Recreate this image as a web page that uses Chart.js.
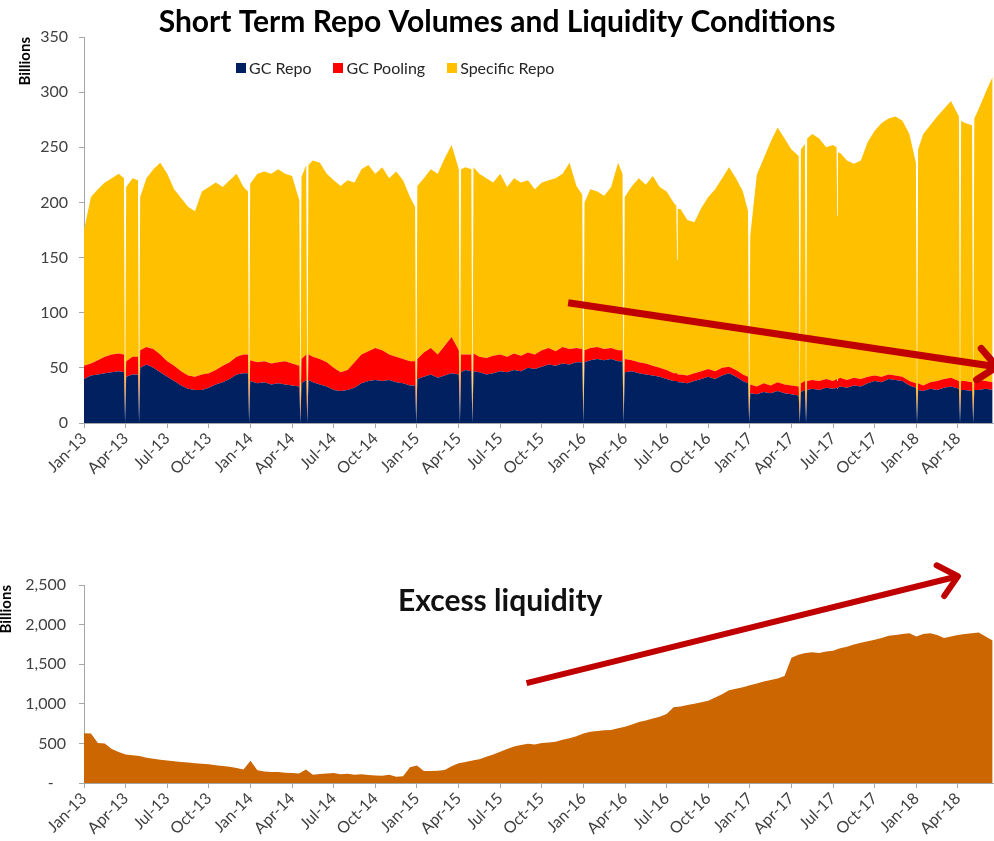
<!DOCTYPE html>
<html>
<head>
<meta charset="utf-8">
<script src="https://cdn.jsdelivr.net/npm/chart.js@4.4.1/dist/chart.umd.min.js"></script>
<style>
  body { margin: 0; background: #fff; width: 994px; height: 841px; overflow: hidden; position: relative; font-family: Lato, "Open Sans", sans-serif; }
  #repoChart { position: absolute; left: 0; top: 0; }
  #liquidityChart { position: absolute; left: 0; top: 560px; }
  #repoLegend { position: absolute; left: 236px; top: 58px; display: flex; gap: 22px; font-size: 16px; color: #262626; }
  #repoLegend span { display: flex; align-items: center; }
  #repoLegend i { display: inline-block; width: 10px; height: 10px; margin-right: 3px; }
  #liqTitle { position: absolute; left: 398px; top: 582px; font-size: 30px; font-weight: bold; color: #111; line-height: 34px; }
</style>
</head>
<body>
<canvas id="repoChart" width="994" height="490"></canvas>
<canvas id="liquidityChart" width="994" height="281"></canvas>
<div id="repoLegend">
  <span><i style="background:#002060"></i>GC Repo</span>
  <span><i style="background:#FF0000"></i>GC Pooling</span>
  <span><i style="background:#FFC000"></i>Specific Repo</span>
</div>
<div id="liqTitle">Excess liquidity</div>
<script>
// x positions are months since Jan-2013
const tickLabels = ['Jan-13','Apr-13','Jul-13','Oct-13','Jan-14','Apr-14','Jul-14','Oct-14','Jan-15','Apr-15','Jul-15',
  'Oct-15','Jan-16','Apr-16','Jul-16','Oct-16','Jan-17','Apr-17','Jul-17','Oct-17','Jan-18','Apr-18'];

const repoMonths = [0,0.5,1,1.5,2,2.5,2.88,2.96,3.04,3.5,3.89,3.97,4.05,4.5,5,5.5,6,6.5,7,7.5,8,8.5,9,9.5,10,10.5,11,11.5,11.82,11.9,11.98,
  12.5,13,13.5,14,14.5,15,15.52,15.6,15.68,16.02,16.1,16.18,16.5,17,17.5,18,18.5,19,19.5,20,20.5,21,21.5,22,22.5,23,23.5,23.87,23.95,24.03,
  24.5,25,25.5,26,26.5,27.02,27.1,27.18,27.5,27.92,28,28.08,28.5,29,29.5,30,30.5,31,31.5,32,32.5,33,33.5,34,34.5,35,35.5,35.92,36,36.08,
  36.5,37,37.5,38,38.5,38.82,38.9,38.98,39.5,40,40.5,41,41.5,42,42.5,42.7,42.75,42.8,43,43.5,44,44.5,45,45.5,46,46.5,47,47.5,47.87,47.95,48.03,
  48.5,49,49.5,50,50.5,51,51.52,51.6,51.68,51.97,52.05,52.13,52.5,53,53.5,54,54.25,54.3,54.35,54.5,55,55.5,56,56.5,57,57.5,58,58.5,59,59.5,59.97,60.05,60.13,
  60.5,61,61.5,62,62.5,63.07,63.15,63.23,63.5,64.02,64.1,64.18,64.5,65,65.5];

const gcRepo = [40,43,44,45,46,47,46,0,42,44,44,0,50,53,50,46,42,38,34,31,30,30,32,35,37,40,44,45,45,0,38,
  36,37,35,36,35,34,33,0,36,39,0,39,37,35,33,30,29,30,32,36,38,39,38,39,37,36,34,34,0,40,
  42,44,41,43,45,44,0,46,48,47,0,47,46,44,45,47,46,48,47,50,49,51,53,52,54,53,55,55,0,55,
  57,58,57,58,56,56,0,46,47,45,44,43,42,40,38,38,38,37,37,36,38,40,42,40,43,45,42,38,36,0,27,
  26,28,27,29,27,26,25,0,28,30,0,30,31,30,32,31,32,31,32,33,32,34,33,36,38,37,40,39,38,34,32,0,30,
  29,31,30,32,33,31,0,30,30,29,0,30,30,31,30];

const gcPooling = [12,11,13,15,16,16,16,0,14,16,16,0,16,16,17,16,14,14,13,12,12,14,13,13,15,15,16,17,17,0,19,
  19,19,19,19,21,20,19,0,22,23,0,23,23,23,22,20,17,18,23,26,27,29,28,23,23,22,22,22,0,18,
  22,24,21,27,33,22,0,16,14,15,0,16,14,15,16,15,14,15,14,14,13,15,15,13,15,14,13,12,0,11,
  11,11,10,10,10,10,0,12,10,10,10,9,8,8,7,7,7,7,7,7,7,7,7,7,7,6,6,6,6,0,8,
  7,8,7,8,8,8,8,0,8,8,0,8,8,8,8,7,8,7,8,8,7,7,7,6,5,5,4,4,4,4,4,0,6,
  5,6,8,8,8,7,0,8,8,8,0,8,9,7,7];

const specificRepo = [123,151,155,158,160,163,160,0,158,162,160,0,139,153,163,174,170,160,157,153,150,166,169,170,162,165,166,152,148,0,160,
  171,172,172,175,170,170,150,0,165,172,0,172,178,178,171,170,169,172,163,168,169,158,166,160,168,162,149,140,0,157,
  158,162,164,170,174,164,0,168,170,168,0,169,166,163,157,164,154,159,157,156,150,152,152,157,157,169,147,140,0,134,
  144,141,139,146,170,160,0,147,158,167,162,172,164,162,155,152,103,150,150,141,137,148,156,165,172,181,174,166,150,0,135,
  192,204,221,231,223,214,209,0,212,215,0,220,223,220,210,214,210,150,205,204,199,194,198,213,222,230,232,235,232,224,200,0,212,
  228,233,240,245,251,240,0,236,234,233,0,238,246,262,277];

const liqMonths = [0,0.5,1,1.5,2,2.5,3,3.5,4,4.5,5,5.5,6,6.5,7,7.5,8,8.5,9,9.5,10,10.5,11,11.5,
  12,12.5,13,13.5,14,14.5,15,15.5,16,16.5,17,17.5,18,18.5,19,19.5,20,20.5,21,21.5,22,22.5,23,23.5,
  24,24.5,25,25.5,26,26.5,27,27.5,28,28.5,29,29.5,30,30.5,31,31.5,32,32.5,33,33.5,34,34.5,35,35.5,
  36,36.5,37,37.5,38,38.5,39,39.5,40,40.5,41,41.5,42,42.5,43,43.5,44,44.5,45,45.5,46,46.5,47,47.5,
  48,48.5,49,49.5,50,50.5,51,51.5,52,52.5,53,53.5,54,54.5,55,55.5,56,56.5,57,57.5,58,58.5,59,59.5,
  60,60.5,61,61.5,62,62.5,63,63.5,64,64.5,65,65.5];

const excessLiquidity = [627,625,505,500,430,390,360,350,340,320,305,292,285,275,265,258,248,244,236,225,215,206,190,170,
  280,160,145,140,138,130,125,120,170,105,115,120,125,110,118,105,112,100,95,90,105,80,85,200,
  220,150,150,155,165,210,250,265,285,300,330,360,395,430,460,480,495,485,505,510,520,545,565,590,
  625,648,655,665,670,690,710,740,770,790,815,835,870,955,965,985,1000,1020,1040,1080,1120,1170,1190,1210,
  1235,1255,1280,1300,1320,1350,1580,1620,1640,1650,1640,1660,1670,1700,1720,1750,1770,1790,1810,1830,1860,1870,1880,1890,
  1850,1880,1890,1870,1830,1850,1870,1880,1890,1900,1850,1800];

// trend arrows, in data units [month, value]
const repoArrow = { from: [34.9, 109], to: [65.8, 51], width: 7 };
const liqArrow = { from: [31.9, 1260], to: [63.0, 2610], width: 6 };

const toPoints = (xs, ys) => xs.map((x, i) => ({ x: x, y: ys[i] }));

Chart.defaults.font.family = 'Lato, "Open Sans", sans-serif';
Chart.defaults.color = '#404040';

const trendArrow = {
  id: 'trendArrow',
  afterDatasetsDraw(chart, args, opts) {
    if (!opts.from) return;
    const ctx = chart.ctx;
    const xs = chart.scales.x, ys = chart.scales.y;
    const x0 = xs.getPixelForValue(opts.from[0]), y0 = ys.getPixelForValue(opts.from[1]);
    const x1 = xs.getPixelForValue(opts.to[0]), y1 = ys.getPixelForValue(opts.to[1]);
    const ang = Math.atan2(y1 - y0, x1 - x0);
    const len = 24, spread = 0.72;
    ctx.save();
    ctx.strokeStyle = '#C00000';
    ctx.lineWidth = opts.width;
    ctx.beginPath();
    ctx.moveTo(x0, y0);
    ctx.lineTo(x1 - 2 * Math.cos(ang), y1 - 2 * Math.sin(ang));
    ctx.stroke();
    ctx.lineCap = 'round';
    ctx.lineJoin = 'round';
    ctx.beginPath();
    ctx.moveTo(x1 - len * Math.cos(ang - spread), y1 - len * Math.sin(ang - spread));
    ctx.lineTo(x1, y1);
    ctx.lineTo(x1 - len * Math.cos(ang + spread), y1 - len * Math.sin(ang + spread));
    ctx.stroke();
    ctx.restore();
  }
};

function xAxis(height) {
  return {
    type: 'linear',
    min: 0,
    max: 65.6,
    afterBuildTicks: (scale) => { scale.ticks = tickLabels.map((l, i) => ({ value: i * 3 })); },
    afterFit: (scale) => { scale.height = height; },
    ticks: {
      autoSkip: false,
      minRotation: 45,
      maxRotation: 45,
      padding: 1,
      font: { size: 16 },
      callback: (v) => tickLabels[Math.round(v / 3)]
    },
    grid: { drawOnChartArea: false, tickLength: 5, color: '#a6a6a6' },
    border: { color: '#a6a6a6' }
  };
}

function area(label, xs, ys, color, fill) {
  return {
    label: label,
    data: toPoints(xs, ys),
    backgroundColor: color,
    borderColor: 'rgba(0,0,0,0)',
    borderWidth: 0,
    pointRadius: 0,
    tension: 0,
    fill: fill
  };
}

new Chart(document.getElementById('repoChart'), {
  type: 'line',
  data: {
    datasets: [
      area('GC Repo', repoMonths, gcRepo, '#002060', 'origin'),
      area('GC Pooling', repoMonths, gcPooling, '#FF0000', '-1'),
      area('Specific Repo', repoMonths, specificRepo, '#FFC000', '-1')
    ]
  },
  options: {
    responsive: false,
    animation: false,
    layout: { padding: 0 },
    plugins: {
      legend: { display: false },
      tooltip: { enabled: false },
      title: {
        display: true,
        text: 'Short Term Repo Volumes and Liquidity Conditions',
        color: '#000',
        font: { size: 30, weight: 'bold', lineHeight: 1 },
        padding: { top: 7, bottom: 0 }
      },
      trendArrow: repoArrow
    },
    scales: {
      x: xAxis(67),
      y: {
        stacked: true,
        min: 0,
        max: 350,
        afterFit: (scale) => { scale.width = 84; },
        ticks: { stepSize: 50, padding: 11, font: { size: 16 } },
        grid: { drawOnChartArea: false, tickLength: 5, color: '#a6a6a6' },
        border: { color: '#a6a6a6' },
        title: { display: true, text: 'Billions', align: 'end', color: '#000', font: { size: 15, weight: 'bold' }, padding: { top: 16, bottom: 0 } }
      }
    }
  },
  plugins: [trendArrow]
});

new Chart(document.getElementById('liquidityChart'), {
  type: 'line',
  data: {
    datasets: [area('Excess liquidity', liqMonths, excessLiquidity, '#CC6600', 'origin')]
  },
  options: {
    responsive: false,
    animation: false,
    layout: { padding: { top: 25 } },
    plugins: {
      legend: { display: false },
      tooltip: { enabled: false },
      trendArrow: liqArrow
    },
    scales: {
      x: xAxis(58),
      y: {
        min: 0,
        max: 2500,
        afterFit: (scale) => { scale.width = 84; },
        ticks: {
          stepSize: 500,
          padding: 13,
          font: { size: 16 },
          callback: (v) => v === 0 ? '-   ' : v.toLocaleString('en-US')
        },
        grid: { drawOnChartArea: false, tickLength: 5, color: '#a6a6a6' },
        border: { color: '#a6a6a6' },
        title: { display: true, text: 'Billions', align: 'end', color: '#000', font: { size: 15, weight: 'bold' }, padding: { top: -3, bottom: 0 } }
      }
    }
  },
  plugins: [trendArrow]
});
</script>
</body>
</html>
